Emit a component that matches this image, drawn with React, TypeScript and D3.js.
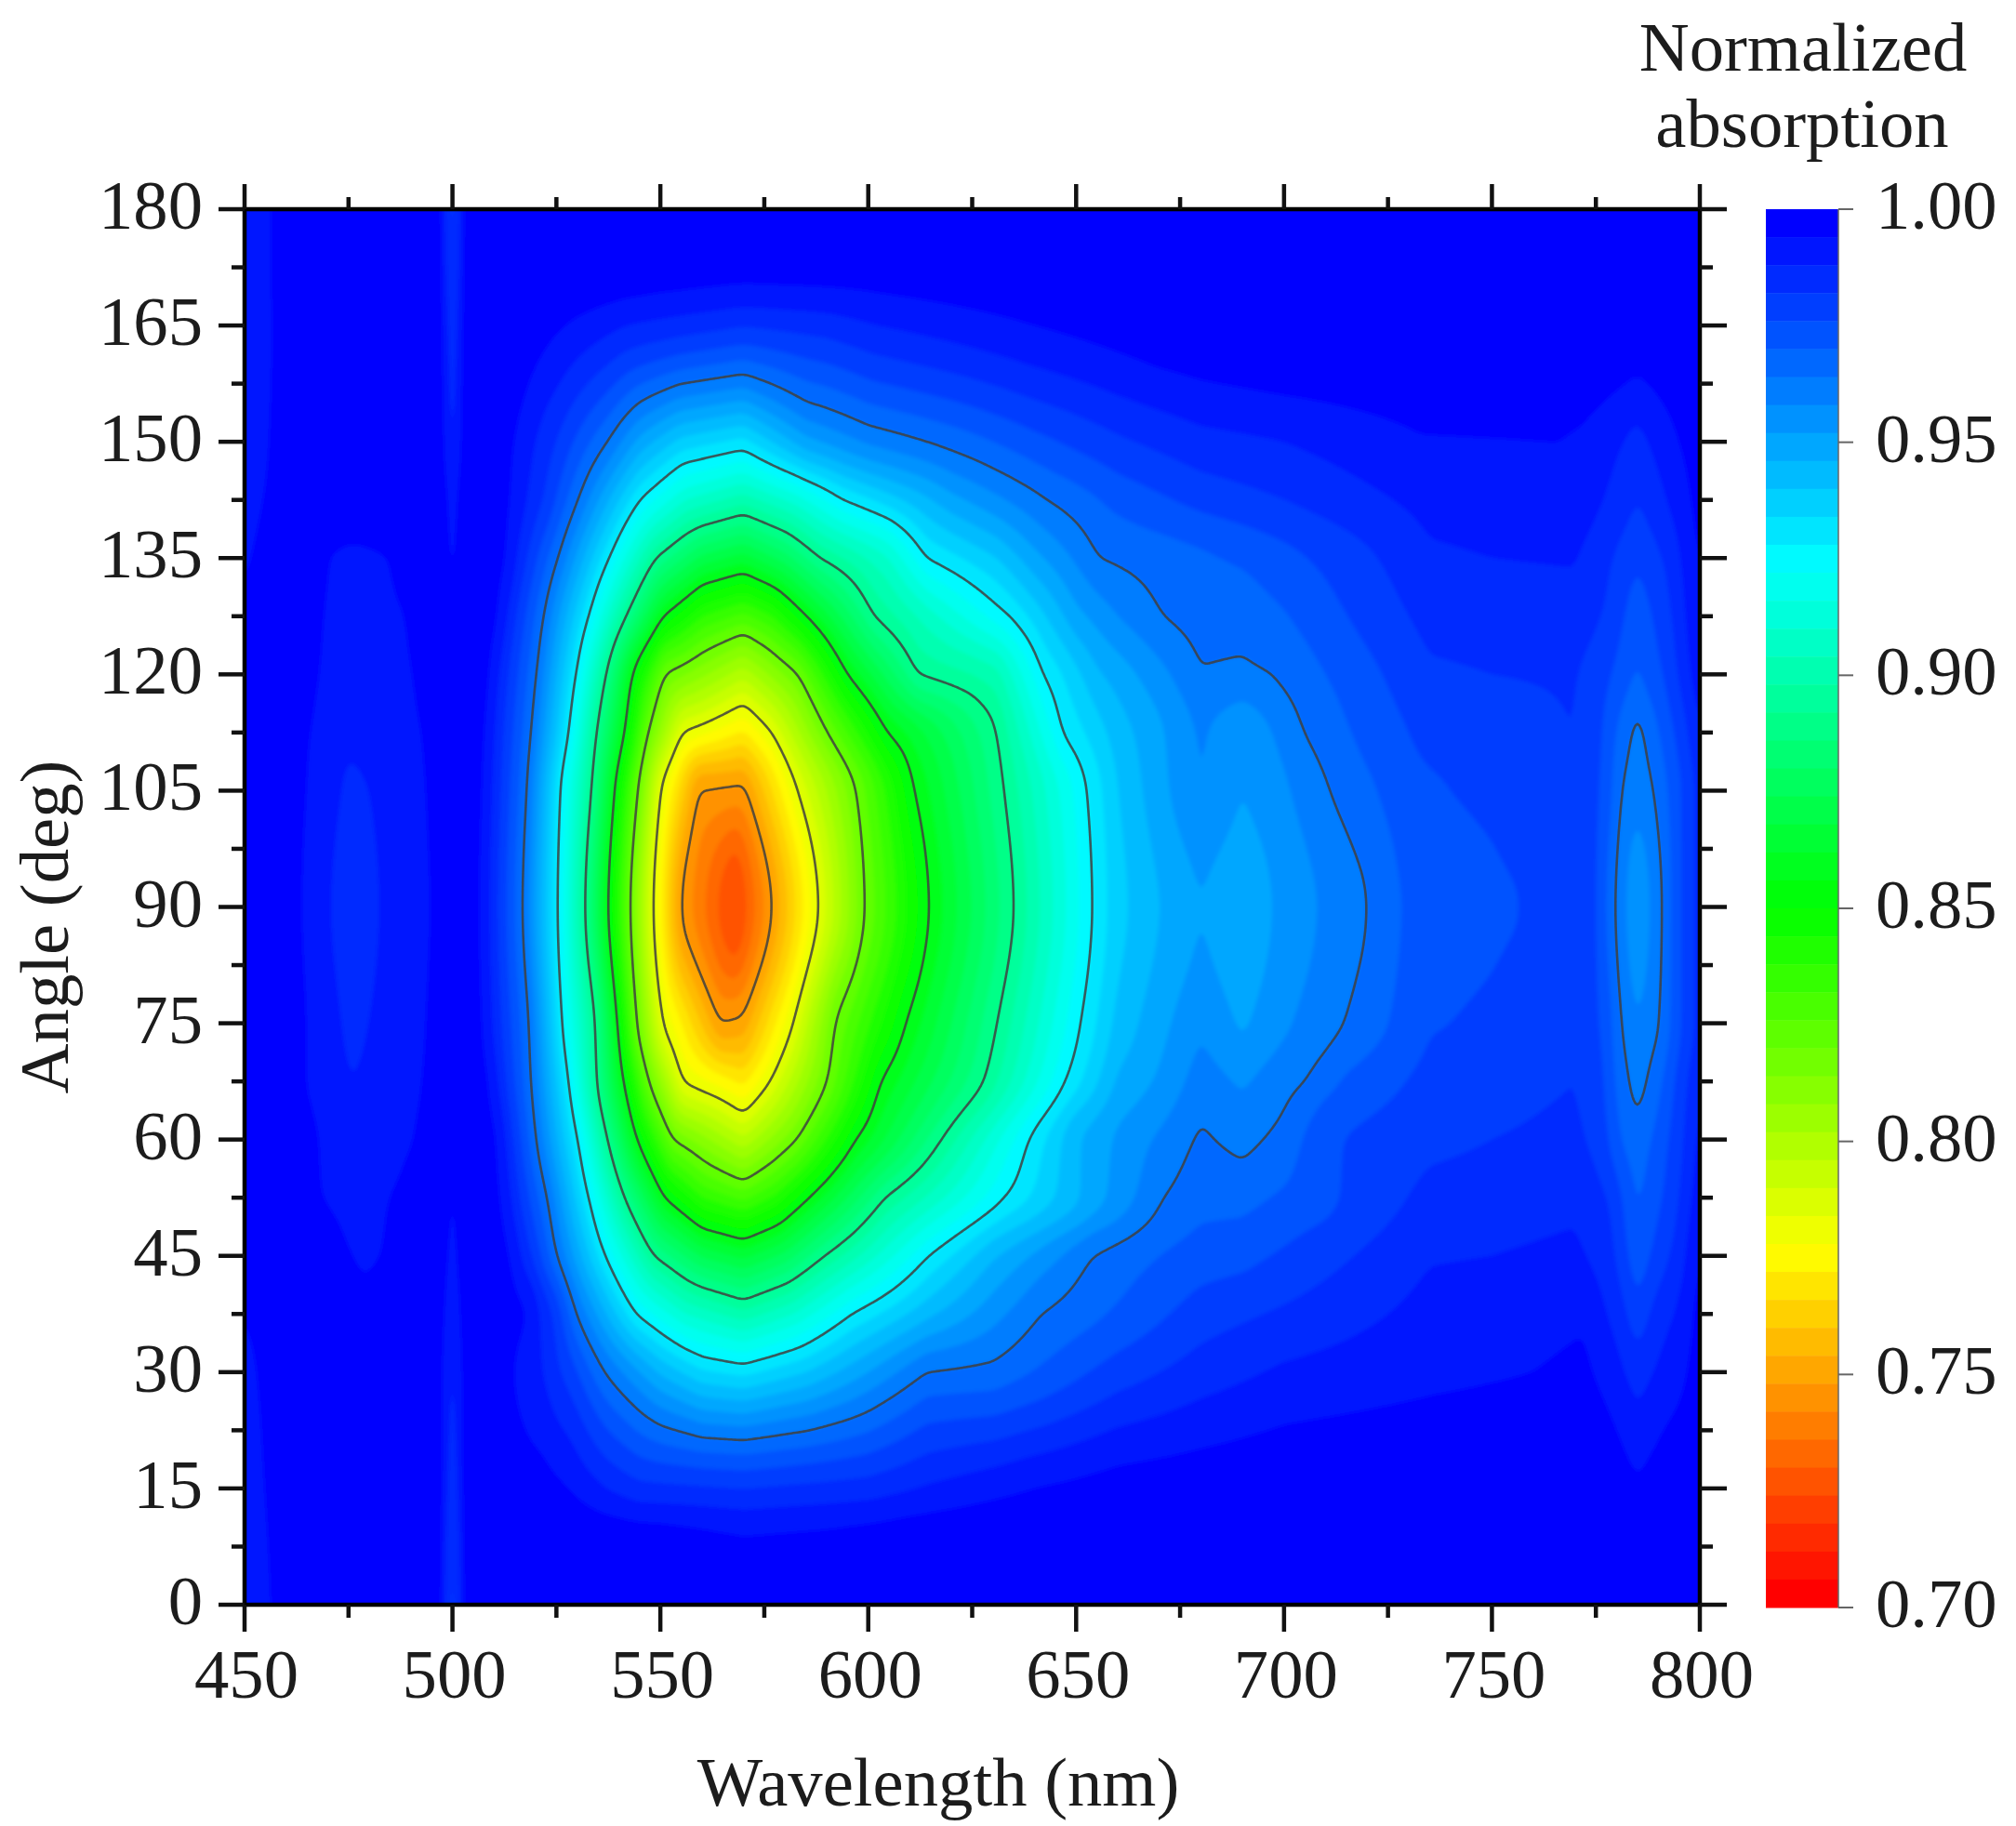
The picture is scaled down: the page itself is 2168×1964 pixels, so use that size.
import React, { useMemo } from "react";
import * as d3 from "d3";

// Readings from the picture: each row is an angle, with [nm, value, nm, value, ...] stops.
const angles = [0, 7.5, 15, 30, 37.5, 45, 52.5, 60, 67.5, 75, 90, 105, 112.5, 120, 127.5, 135, 142.5, 150, 165, 172.5, 180];
const row000 = [450,.988,455,.992,460,.999,464,1,496,1,498,.99,500,.976,502,.99,504,1,800,1];
const row007 = [450,.989,455,.993,460,.999,464,1,496,1,498,.991,500,.978,502,.991,504,1,530,.9995,550,.998,570,.9955,590,.9965,610,.9985,640,1,800,1];
const row015 = [450,.99,455,.994,460,.999,464,1,496,1,498,.992,500,.981,502,.992,504,1,520,.997,528,.994,537,.988,545,.984,570,.982,600,.985,615,.989,640,.994,660,.9965,700,.9985,750,1,775,1,785,.995,792,.998,800,1];
const row030 = [450,.992,456,.996,462,1,476,.998,494,.999,498,.994,500,.985,502,.994,505,.999,515,.994,522,.988,529,.978,536.6,.964,550,.945,560,.935,570,.932,585,.94,600,.952,614,.964,630,.966,660,.979,680,.985,700,.989,735,.9925,760,.994,772,.9955,780,.99,785,.985,790,.989,795,.992,800,.997];
const row037 = [450,.994,456,.997,462,1,476,.996,492,.999,498,.995,500,.988,502,.995,505,.999,518,.994,525,.98,529.8,.964,544.2,.928,556,.91,570,.9,582,.91,596,.928,615,.945,641.7,.964,660,.971,680,.979,690,.981,700,.983,735,.99,760,.992,772,.993,780,.986,785,.978,790,.985,795,.989,800,.996];
const row045 = [450,.995,456,.998,462,1,474,.9945,479,.9932,485,.9945,494,.998,498,.996,500,.991,502,.996,505,.999,514,.994,520,.98,525.2,.964,536.8,.928,548.5,.892,560,.873,570,.866,580,.876,589.5,.892,614.5,.928,630,.945,654,.964,670,.97,680,.973,690,.974,700,.977,735,.9875,750,.988,770,.9895,778,.985,785,.972,791,.98,795,.985,800,.995];
const row052 = [450,.999,458,1,466.5,.9945,476,.9925,488,.9945,497,.998,500,.993,503,.998,512,.994,522.8,.964,532.8,.928,541.4,.892,551,.856,560,.838,570,.83,578,.84,585.8,.856,604,.892,632.7,.928,655,.95,671,.964,680,.968,690,.968,700,.971,735,.984,750,.985,770,.9865,778,.982,785,.969,791,.976,795,.982,800,.992];
const row060 = [450,.998,458,1,467.5,.994,476,.991,491,.994,497,.998,500,.9945,503,.998,511,.994,520.2,.964,530.2,.928,537.3,.892,544.4,.856,553,.82,570,.797,582.8,.82,597,.856,617.6,.892,638.6,.928,650,.945,660,.953,670,.959,680,.965,690,.962,700,.966,710,.975,735,.9805,750,.982,770,.9835,776,.98,781,.97,785,.966,790,.972,795,.98,800,.99];
const row067 = [450,1,465,.994,473,.989,476,.988,480,.989,493,.994,498,.998,502,.998,509,.994,519,.964,528,.928,534.8,.892,541.2,.856,547.2,.82,555.3,.784,570,.77,576.4,.784,590,.82,603,.856,627.8,.892,647.3,.928,660,.947,670,.953,680,.961,690,.957,700,.962,705,.964,715,.971,735,.978,750,.98,770,.982,776,.978,781,.967,785,.961,790,.968,795,.978,800,.988];
const row075 = [450,1,465,.994,473,.988,476,.987,480,.988,494,.994,498,.998,502,.998,507.5,.994,518.5,.964,526.4,.928,534.4,.892,539.7,.856,544.3,.82,550.5,.784,564.4,.748,570,.75,582,.784,592,.82,609,.856,631,.892,651,.928,660,.942,670,.95,680,.957,690,.951,700,.957,714.4,.964,735,.9755,740,.976,750,.977,770,.981,777,.975,781,.964,785,.958,790.4,.964,795,.975,800,.985];
const row090 = [450,1,464,.994,470.6,.988,476,.985,482.4,.988,495,.994,498,.997,502,.997,507,.994,517,.964,525.4,.928,532,.892,537.5,.856,542.8,.82,548.3,.784,554.8,.748,568,.722,576.8,.748,588,.784,599,.82,614.5,.856,635,.892,653.8,.928,660,.938,670,.946,680,.952,690,.947,700,.954,720,.964,728,.97,740,.9745,757,.976,770,.98,775,.977,779.6,.964,785,.952,791,.964,795,.975,800,.985];
const row105 = [450,1,465,.994,473,.988,476,.987,480,.988,494,.994,498,.998,502,.998,507.5,.994,518,.964,526,.928,533.5,.892,539,.856,544.6,.82,550,.784,559,.748,570,.746,583,.784,597,.82,611,.856,632.7,.892,652.5,.928,660,.94,670,.95,680,.958,690,.952,700,.957,711,.964,730,.974,740,.976,750,.977,770,.981,777,.975,781,.964,785,.96,789,.964,795,.975,800,.985];
const row112 = [450,1,466,.994,473.5,.989,476,.989,480,.99,493,.994,498,.999,502,.999,508,.994,519,.964,528,.928,534.7,.892,541.4,.856,547,.82,555.2,.784,570,.771,576.8,.784,590.2,.82,604.6,.856,630.9,.892,646.7,.928,660,.943,670,.951,680,.959,690,.953,700,.96,704.8,.964,720,.972,735,.978,750,.98,770,.982,776,.977,781,.968,785,.962,789,.968,795,.978,800,.988];
const row120 = [450,.996,455,.998,460,1,467.5,.994,476,.991,491,.994,496,.999,500,.997,504,.999,509,.994,520.3,.964,529.8,.928,537,.892,543.3,.856,551,.82,570,.798,583.1,.82,595,.856,612,.892,625,.898,631,.902,642,.928,655,.945,670,.956,680,.9635,690,.9625,697,.964,710,.97,735,.981,750,.982,770,.9825,776,.979,785,.969,792,.977,800,.992];
const row127 = [450,.995,456,.998,462,1,468.5,.994,476,.992,489,.994,496,.999,500,.996,504,.999,511,.994,522,.964,532.8,.928,541.8,.892,550.7,.856,560,.838,570,.83,577,.838,585.2,.856,601.4,.892,615,.908,634,.928,650,.95,660,.958,671,.964,680,.9665,690,.9665,700,.9695,720,.978,735,.984,750,.985,770,.9855,778,.981,785,.972,792,.98,800,.994];
const row135 = [450,.993,458,.998,464,1,470,.994,476,.9925,485,.994,492,.999,498,.997,500,.992,502,.997,504,.999,513,.994,525.4,.964,537.7,.928,548.9,.892,560,.872,570,.865,580,.877,588.4,.892,605,.91,614,.928,631,.94,640,.95,655.6,.964,670,.967,680,.969,690,.971,700,.974,720,.981,735,.987,750,.988,770,.9885,778,.983,785,.977,792,.983,800,.995];
const row142 = [450,.991,456,.995,462,1,496,1,498,.996,500,.99,502,.996,504,1,514,.994,523,.98,530.2,.964,545.1,.928,556,.91,570,.9005,582,.912,594,.928,620,.95,643,.964,660,.972,680,.978,700,.982,735,.99,766,.9915,772,.991,780,.986,785,.982,790,.986,795,.991,800,.996];
const row150 = [450,.99,455,.993,460,.998,464,1,496,1,498,.994,500,.985,502,.994,504,1,515,.994,525,.982,537.3,.964,545,.95,555,.938,570,.932,585,.95,600,.959,614,.964,625,.968,640,.974,660,.981,680,.986,700,.988,733,.9935,766,.994,772,.993,780,.989,785,.986,790,.99,795,.994,800,.997];
const row165 = [450,.989,455,.992,460,.998,464,1,496,1,498,.992,500,.982,502,.992,504,1,515,.999,527,.994,542,.988,570,.9825,590,.985,602,.988,640,.994,670,.998,700,1,775,1,785,.9985,800,1];
const row172 = [450,.988,455,.992,460,.999,464,1,496,1,498,.991,500,.979,502,.991,504,1,530,.9995,550,.9975,570,.9965,600,.997,630,.9985,660,1,800,1];
const row180 = [450,.988,455,.992,460,.999,464,1,496,1,498,.99,500,.976,502,.99,504,1,800,1];
const rows = [row000,row007,row015,row030,row037,row045,row052,row060,row067,row075,row090,row105,row112,row120,row127,row135,row142,row150,row165,row172,row180];

const xMajor = [450, 500, 550, 600, 650, 700, 750, 800];
const xMinor = [475, 525, 575, 625, 675, 725, 775];
const yMajor = [0, 15, 30, 45, 60, 75, 90, 105, 120, 135, 150, 165, 180];
const yMinor = [7.5, 22.5, 37.5, 52.5, 67.5, 82.5, 97.5, 112.5, 127.5, 142.5, 157.5, 172.5];
const cbTicks = [0.7, 0.75, 0.8, 0.85, 0.9, 0.95, 1.0];
const lineLevels = [0.964, 0.928, 0.892, 0.856, 0.82, 0.784, 0.748];
const bandCount = 50;
const bandStep = 0.006;
const rainbowStops = ["#0000ff", "#00ffff", "#00ff00", "#ffff00", "#ff0000"];

const W = 2168, H = 1964;
const L = 263, R = 1828, T = 225, B = 1726;
const CL = 1899, CR = 1977, CT = 225, CB = 1729;
const FONT = "'Liberation Serif', 'Times New Roman', serif";
const INK = "#1c1c1c";

const rainbow = d3.scaleLinear<string>().domain(d3.range(5).map(i => i / 4)).range(rainbowStops).interpolate(d3.interpolateRgb);

function sampleRow(r: number[], nm: number) {
  for (let i = 0; i + 2 < r.length; i += 2) {
    if (nm <= r[i + 2]) {
      const t = (nm - r[i]) / (r[i + 2] - r[i]);
      return r[i + 1] + t * (r[i + 3] - r[i + 1]);
    }
  }
  return r[r.length - 1];
}

function monotone(ys: number[], xs: number[], x: number) {
  const n = ys.length;
  let i = d3.bisectRight(xs, x) - 1;
  i = Math.max(0, Math.min(n - 2, i));
  const sec = (k: number) => (ys[k + 1] - ys[k]) / (xs[k + 1] - xs[k]);
  const tan = (k: number) => {
    if (k === 0) return sec(0);
    if (k === n - 1) return sec(n - 2);
    const a = sec(k - 1), b = sec(k);
    return a * b <= 0 ? 0 : (2 * a * b) / (a + b);
  };
  const h = xs[i + 1] - xs[i];
  const t = (x - xs[i]) / h;
  const t2 = t * t, t3 = t2 * t;
  return (2 * t3 - 3 * t2 + 1) * ys[i] + (t3 - 2 * t2 + t) * h * tan(i) + (-2 * t3 + 3 * t2) * ys[i + 1] + (t3 - t2) * h * tan(i + 1);
}

function boxPass(z: Float64Array, nx: number, ny: number, rx: number, ry: number) {
  const tmp = new Float64Array(z.length);
  for (let j = 0; j < ny; j++) for (let i = 0; i < nx; i++) {
    let s = 0, c = 0;
    for (let d = -rx; d <= rx; d++) { const q = i + d; if (q >= 0 && q < nx) { s += z[j * nx + q]; c++; } }
    tmp[j * nx + i] = s / c;
  }
  for (let j = 0; j < ny; j++) for (let i = 0; i < nx; i++) {
    let s = 0, c = 0;
    for (let d = -ry; d <= ry; d++) { const q = j + d; if (q >= 0 && q < ny) { s += tmp[q * nx + i]; c++; } }
    z[j * nx + i] = s / c;
  }
}

export default function App() {
  const x = d3.scaleLinear().domain([450, 800]).range([L, R]);
  const y = d3.scaleLinear().domain([0, 180]).range([B, T]);
  const cy = d3.scaleLinear().domain([0.7, 1]).range([CB, CT]);

  const { bands, lines } = useMemo(() => {
    const dW = 0.5, dA = 0.5;
    const nx = Math.round(350 / dW) + 1, ny = Math.round(180 / dA) + 1;
    const z = new Float64Array(nx * ny);
    for (let i = 0; i < nx; i++) {
      const nm = 450 + i * dW;
      const col = rows.map(r => sampleRow(r, nm));
      for (let j = 0; j < ny; j++) {
        z[j * nx + i] = 1 - monotone(col, angles, j * dA);
      }
    }
    boxPass(z, nx, ny, 2, 2);
    boxPass(z, nx, ny, 2, 2);
    const path = d3.geoPath(d3.geoTransform({
      point(px: number, py: number) {
        (this as any).stream.point(x(450 + (px - 0.5) * dW), y((py - 0.5) * dA));
      },
    }));
    const gen = d3.contours().size([nx, ny]);
    const bands = d3.range(1, bandCount).map(k => ({
      k,
      d: path(gen.contour(z as any, k * bandStep) as any) || "",
    }));
    const lines = lineLevels.map(l => path(gen.contour(z as any, 1 - l) as any) || "");
    return { bands, lines };
  }, []);

  const txt = { fontFamily: FONT, fontSize: 74.7, fill: INK } as const;
  return (
    <svg width={W} height={H} viewBox={`0 0 ${W} ${H}`} style={{ position: "absolute", left: 0, top: 0, display: "block", background: "#fff" }}>
      <defs>
        <clipPath id="plot"><rect x={L} y={T} width={R - L} height={B - T} /></clipPath>
        <filter id="soft" x="-2%" y="-2%" width="104%" height="104%"><feGaussianBlur stdDeviation="2.2" /></filter>
        <filter id="softLine" x="-2%" y="-2%" width="104%" height="104%"><feGaussianBlur stdDeviation="0.7" /></filter>
      </defs>

      <g clipPath="url(#plot)">
        <rect x={L} y={T} width={R - L} height={B - T} fill={rainbow(0)} />
        <g filter="url(#soft)">
          {bands.map(b => <path key={b.k} d={b.d} fill={rainbow(b.k / (bandCount - 1))} stroke="none" />)}
        </g>
        <g filter="url(#softLine)">
          {lines.map((d, i) => <path key={i} d={d} fill="none" stroke="#404040" strokeWidth={2.6} strokeOpacity={0.85} strokeLinejoin="round" />)}
        </g>
      </g>

      <rect x={L} y={T} width={R - L} height={B - T} fill="none" stroke="#000" strokeWidth={4.5} />
      {xMajor.map(v => <g key={v}>
        <line x1={x(v)} x2={x(v)} y1={B} y2={1755} stroke="#111" strokeWidth={4.5} />
        <line x1={x(v)} x2={x(v)} y1={T} y2={198} stroke="#111" strokeWidth={4.5} />
        <text x={x(v) + 2} y={1826} textAnchor="middle" {...txt}>{v}</text>
      </g>)}
      {xMinor.map(v => <g key={v}>
        <line x1={x(v)} x2={x(v)} y1={B} y2={1740} stroke="#111" strokeWidth={4.5} />
        <line x1={x(v)} x2={x(v)} y1={T} y2={212} stroke="#111" strokeWidth={4.5} />
      </g>)}
      {yMajor.map(v => <g key={v}>
        <line x1={L} x2={235} y1={y(v)} y2={y(v)} stroke="#111" strokeWidth={4.5} />
        <line x1={R} x2={1857} y1={y(v)} y2={y(v)} stroke="#111" strokeWidth={4.5} />
        <text x={218} y={y(v) + 21} textAnchor="end" {...txt}>{v}</text>
      </g>)}
      {yMinor.map(v => <g key={v}>
        <line x1={L} x2={249} y1={y(v)} y2={y(v)} stroke="#111" strokeWidth={4.5} />
        <line x1={R} x2={1842} y1={y(v)} y2={y(v)} stroke="#111" strokeWidth={4.5} />
      </g>)}

      <text x={1009} y={1942} textAnchor="middle" {...txt}>Wavelength (nm)</text>
      <text transform="translate(73,997) rotate(-90)" textAnchor="middle" {...txt}>Angle (deg)</text>

      {d3.range(bandCount).map(k => (
        <rect key={k} x={CL} width={CR - CL}
          y={cy(1 - k * bandStep)} height={cy(1 - (k + 1) * bandStep) - cy(1 - k * bandStep) + 0.5}
          fill={rainbow(k / (bandCount - 1))} />
      ))}
      <line x1={CR} x2={CR} y1={CT} y2={CB} stroke="#666" strokeWidth={1.5} />
      {cbTicks.map(v => <g key={v}>
        <line x1={CR} x2={1993} y1={cy(v)} y2={cy(v)} stroke="#666" strokeWidth={2} />
        <text x={2017} y={cy(v) + 21} {...txt}>{d3.format(".2f")(v)}</text>
      </g>)}

      <text x={1939} y={76} textAnchor="middle" {...txt}>Normalized</text>
      <text x={1938} y={158} textAnchor="middle" {...txt}>absorption</text>
    </svg>
  );
}
